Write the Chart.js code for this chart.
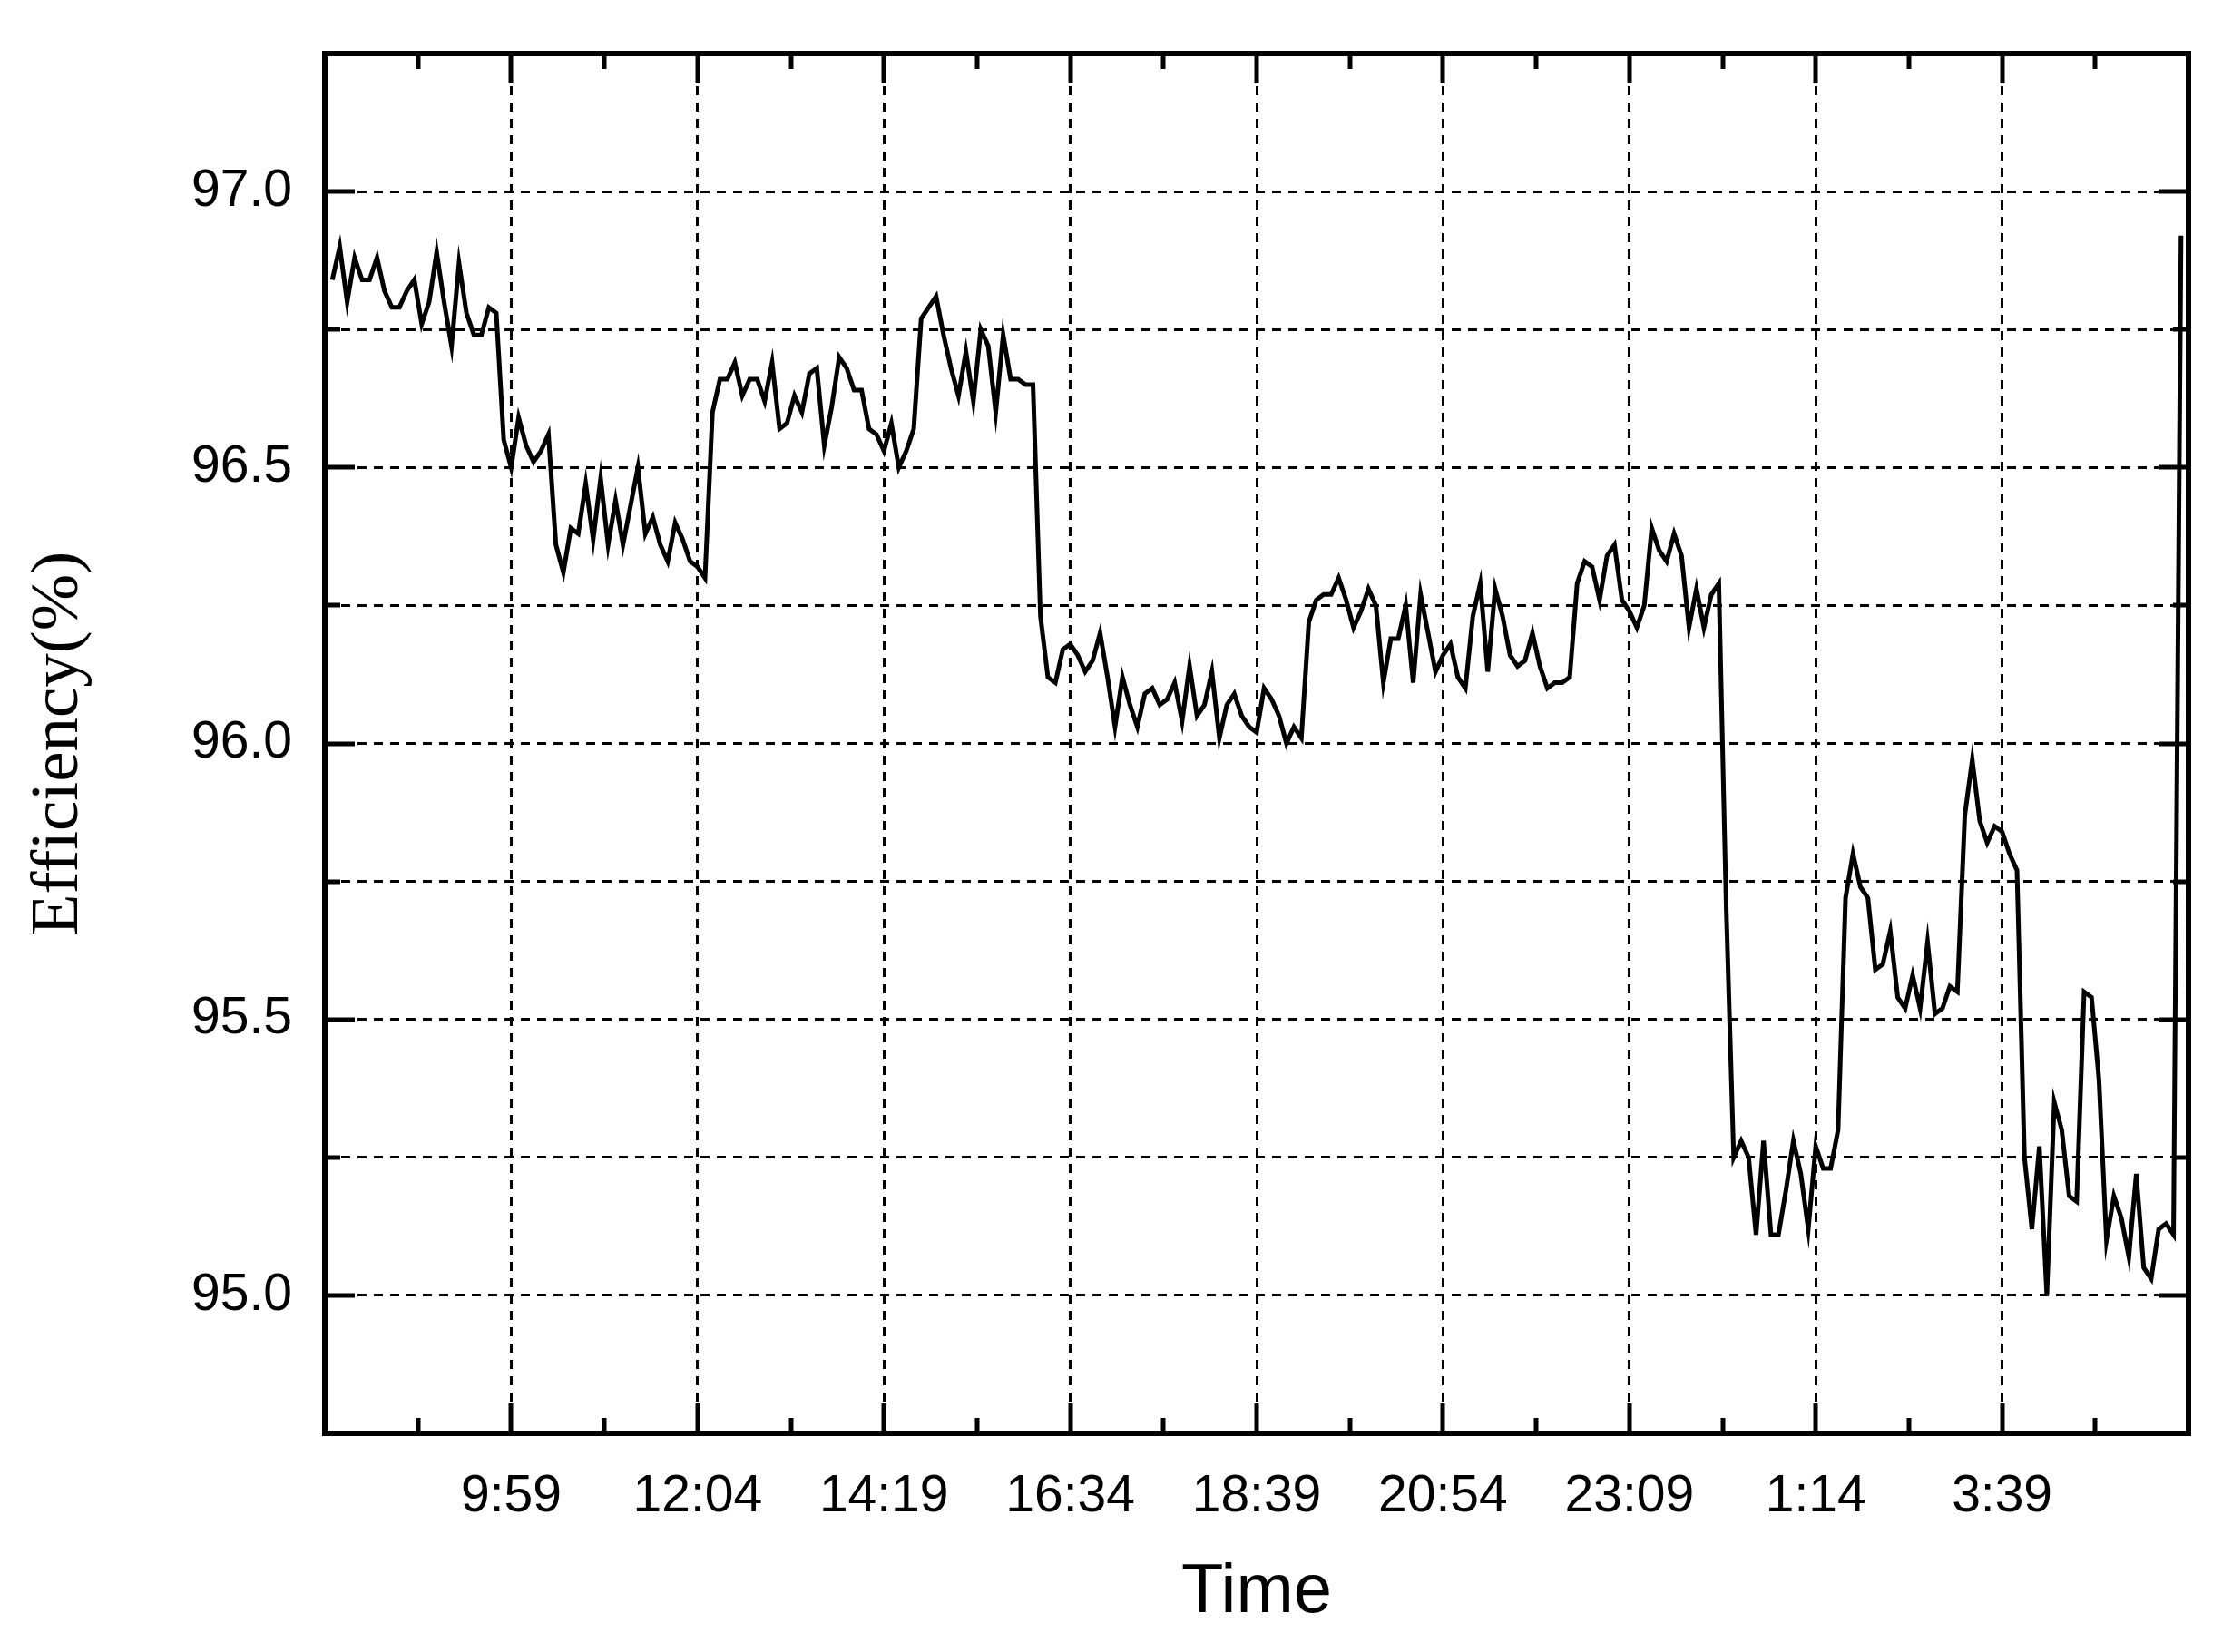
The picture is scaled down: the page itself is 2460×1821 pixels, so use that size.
<!DOCTYPE html>
<html>
<head>
<meta charset="utf-8">
<title>Efficiency vs Time</title>
<script src="https://cdn.jsdelivr.net/npm/chart.js@4.4.1/dist/chart.umd.min.js"></script>
<style>
  html, body { margin: 0; padding: 0; background: #fff; }
  #wrap { width: 2460px; height: 1821px; }
</style>
</head>
<body>
<div id="wrap"><canvas id="effChart" width="2460" height="1821"></canvas></div>
<script>
// x axis labels at the major ticks (first and last major tick are unlabeled)
const timeLabels = ['9:59', '12:04', '14:19', '16:34', '18:39', '20:54', '23:09', '1:14', '3:39'];

// labeled y ticks
const effTicks = [95.0, 95.5, 96.0, 96.5, 97.0];

// efficiency readings (%), evenly spaced samples
const effValues = [
  96.84, 96.90, 96.80, 96.88, 96.84, 96.84, 96.88, 96.82, 96.79, 96.79,
  96.82, 96.84, 96.76, 96.80, 96.89, 96.80, 96.72, 96.87, 96.78, 96.74,
  96.74, 96.79, 96.78, 96.55, 96.50, 96.59, 96.54, 96.51, 96.53, 96.56,
  96.36, 96.31, 96.39, 96.38, 96.47, 96.37, 96.48, 96.36, 96.44, 96.36,
  96.43, 96.50, 96.38, 96.41, 96.36, 96.33, 96.40, 96.37, 96.33, 96.32,
  96.30, 96.60, 96.66, 96.66, 96.69, 96.63, 96.66, 96.66, 96.62, 96.69,
  96.57, 96.58, 96.63, 96.60, 96.67, 96.68, 96.54, 96.61, 96.70, 96.68,
  96.64, 96.64, 96.57, 96.56, 96.53, 96.58, 96.50, 96.53, 96.57, 96.77,
  96.79, 96.81, 96.74, 96.68, 96.63, 96.71, 96.62, 96.75, 96.72, 96.60,
  96.74, 96.66, 96.66, 96.65, 96.65, 96.23, 96.12, 96.11, 96.17, 96.18,
  96.16, 96.13, 96.15, 96.20, 96.12, 96.03, 96.12, 96.07, 96.03, 96.09,
  96.10, 96.07, 96.08, 96.11, 96.04, 96.14, 96.05, 96.07, 96.13, 96.01,
  96.07, 96.09, 96.05, 96.03, 96.02, 96.10, 96.08, 96.05, 96.00, 96.03,
  96.01, 96.22, 96.26, 96.27, 96.27, 96.30, 96.26, 96.21, 96.24, 96.28,
  96.25, 96.11, 96.19, 96.19, 96.25, 96.11, 96.27, 96.20, 96.13, 96.16,
  96.18, 96.12, 96.10, 96.23, 96.29, 96.13, 96.28, 96.23, 96.16, 96.14,
  96.15, 96.20, 96.14, 96.10, 96.11, 96.11, 96.12, 96.29, 96.33, 96.32,
  96.26, 96.34, 96.36, 96.26, 96.24, 96.21, 96.25, 96.39, 96.35, 96.33,
  96.38, 96.34, 96.21, 96.28, 96.21, 96.27, 96.29, 95.70, 95.25, 95.28,
  95.25, 95.11, 95.28, 95.11, 95.11, 95.19, 95.28, 95.22, 95.12, 95.27,
  95.23, 95.23, 95.30, 95.72, 95.80, 95.74, 95.72, 95.59, 95.60, 95.66,
  95.54, 95.52, 95.58, 95.52, 95.64, 95.51, 95.52, 95.56, 95.55, 95.87,
  95.97, 95.86, 95.82, 95.85, 95.84, 95.80, 95.77, 95.25, 95.12, 95.27,
  95.00, 95.35, 95.30, 95.18, 95.17, 95.55, 95.54, 95.39, 95.10, 95.18,
  95.14, 95.07, 95.22, 95.05, 95.03, 95.12, 95.13, 95.11, 96.92
];

const PER_MAJOR = 25;                       // samples between labeled times
const X_MAX = PER_MAJOR * (timeLabels.length + 1);

const isMajorX = v => Math.abs(v % PER_MAJOR) < 1e-9;
const isLabeledY = v => effTicks.some(t => Math.abs(t - v) < 1e-9);

// inward tick marks on all four sides + the box frame
const frameTicks = {
  id: 'frameTicks',
  afterDraw(chart) {
    const { ctx, chartArea: a, scales } = chart;
    ctx.save();
    ctx.strokeStyle = '#000';
    ctx.lineWidth = 5;
    ctx.beginPath();
    scales.x.ticks.forEach(t => {
      const px = Math.round(scales.x.getPixelForValue(t.value));
      const len = isMajorX(t.value) ? 33 : 17;
      ctx.moveTo(px, a.bottom); ctx.lineTo(px, a.bottom - len);
      ctx.moveTo(px, a.top); ctx.lineTo(px, a.top + len);
    });
    scales.y.ticks.forEach(t => {
      const py = Math.round(scales.y.getPixelForValue(t.value));
      const len = isLabeledY(t.value) ? 33 : 17;
      ctx.moveTo(a.left, py); ctx.lineTo(a.left + len, py);
      ctx.moveTo(a.right, py); ctx.lineTo(a.right - len, py);
    });
    ctx.stroke();
    ctx.lineWidth = 6;
    ctx.strokeRect(a.left, a.top, a.right - a.left, a.bottom - a.top);
    ctx.restore();
  }
};

const gridColor = (ctx, inner) => inner ? '#000' : 'rgba(0,0,0,0)';

new Chart(document.getElementById('effChart'), {
  type: 'line',
  data: {
    datasets: [{
      label: 'Efficiency',
      data: effValues.map((v, i) => ({ x: i + 1, y: v })),
      borderColor: '#000',
      borderWidth: 5,
      pointRadius: 0,
      tension: 0,
      fill: false
    }]
  },
  options: {
    responsive: false,
    animation: false,
    devicePixelRatio: 1,
    layout: { padding: { top: 59, right: 48, left: 0, bottom: 0 } },
    plugins: {
      legend: { display: false },
      tooltip: { enabled: false }
    },
    scales: {
      x: {
        type: 'linear',
        min: 0,
        max: X_MAX,
        afterBuildTicks: scale => {
          const ticks = [];
          for (let v = 0; v <= X_MAX; v += PER_MAJOR / 2) ticks.push({ value: v });
          scale.ticks = ticks;
        },
        afterFit: scale => {
          scale.height = 241;
          scale.paddingLeft = 0;
          scale.paddingRight = 0;
        },
        ticks: {
          autoSkip: false,
          maxRotation: 0,
          padding: 36,
          color: '#000',
          font: { family: '"Liberation Sans", Arial, sans-serif', size: 57 },
          callback: v => {
            if (!isMajorX(v)) return '';
            const k = Math.round(v / PER_MAJOR);
            return timeLabels[k - 1] || '';
          }
        },
        grid: {
          drawTicks: false,
          lineWidth: 3,
          color: ctx => gridColor(ctx, ctx.tick && isMajorX(ctx.tick.value) && ctx.tick.value > 0 && ctx.tick.value < X_MAX)
        },
        border: { display: false, dash: [10, 8] },
        title: {
          display: true,
          text: 'Time',
          color: '#000',
          padding: { top: 0, bottom: 19 },
          font: { family: '"Liberation Sans", Arial, sans-serif', size: 76 }
        }
      },
      y: {
        min: 94.75,
        max: 97.25,
        afterBuildTicks: scale => {
          const ticks = [];
          for (let k = 0; k <= 10; k++) ticks.push({ value: 94.75 + k * 0.25 });
          scale.ticks = ticks;
        },
        afterFit: scale => {
          scale.width = 358;
          scale.paddingTop = 0;
          scale.paddingBottom = 0;
        },
        ticks: {
          autoSkip: false,
          padding: 36,
          color: '#000',
          font: { family: '"Liberation Sans", Arial, sans-serif', size: 57 },
          callback: v => isLabeledY(v) ? v.toFixed(1) : ''
        },
        grid: {
          drawTicks: false,
          lineWidth: 3,
          color: ctx => gridColor(ctx, ctx.tick && ctx.tick.value > 94.76 && ctx.tick.value < 97.24)
        },
        border: { display: false, dash: [10, 8] },
        title: {
          display: true,
          text: 'Efficiency(%)',
          color: '#000',
          padding: { top: 20, bottom: 0 },
          font: { family: '"Liberation Serif", "Times New Roman", serif', size: 75 }
        }
      }
    }
  },
  plugins: [frameTicks]
});
</script>
</body>
</html>
